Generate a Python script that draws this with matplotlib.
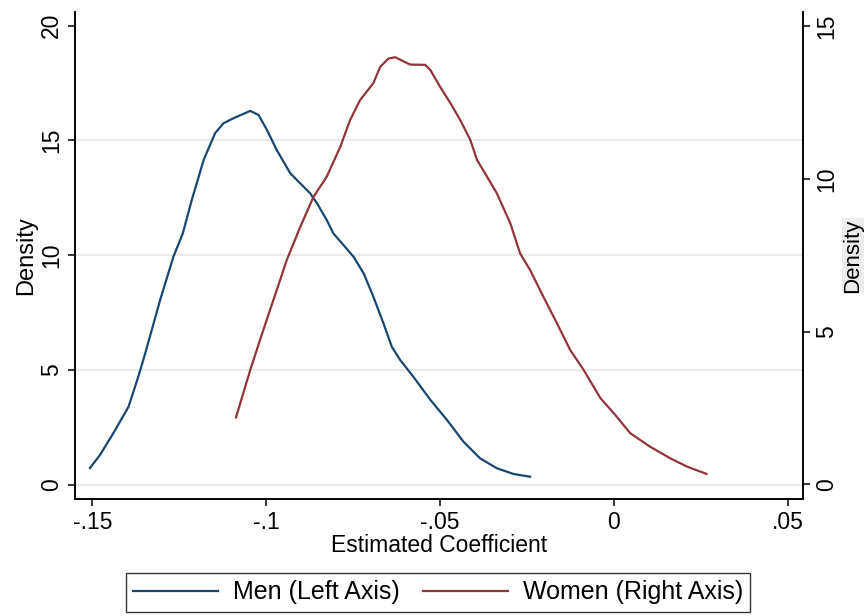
import matplotlib.pyplot as plt
import numpy as np

plt.rcParams['font.family'] = ['Liberation Sans', 'DejaVu Sans']

# kernel density estimates
men_x = [-0.1507, -0.1478, -0.1440, -0.1396, -0.1368, -0.1348, -0.1305, -0.1267, -0.1240,
         -0.1214, -0.1180, -0.1147, -0.1123, -0.1094, -0.1046, -0.1022, -0.0998, -0.0970,
         -0.0931, -0.0912, -0.0874, -0.0854, -0.0826, -0.0807, -0.0778, -0.0749, -0.0720,
         -0.0692, -0.0663, -0.0639, -0.0615, -0.0577, -0.0528, -0.0480, -0.0433, -0.0385,
         -0.0337, -0.0289, -0.0241]
men_y = [0.72, 1.29, 2.23, 3.39, 4.70, 5.72, 8.05, 9.93, 10.95,
         12.41, 14.15, 15.32, 15.75, 15.97, 16.29, 16.11, 15.46, 14.59,
         13.57, 13.28, 12.70, 12.26, 11.53, 10.95, 10.44, 9.93, 9.21,
         8.19, 7.03, 6.01, 5.43, 4.70, 3.69, 2.81, 1.87, 1.14,
         0.71, 0.46, 0.34]

women_x = [-0.1087, -0.1046, -0.1018, -0.0989, -0.0960, -0.0941, -0.0902, -0.0864, -0.0826,
           -0.0787, -0.0759, -0.0730, -0.0692, -0.0672, -0.0648, -0.0629, -0.0610, -0.0586,
           -0.0543, -0.0528, -0.0500, -0.0470, -0.0442, -0.0413, -0.0394, -0.0365, -0.0337,
           -0.0298, -0.0270, -0.0241, -0.0203, -0.0164, -0.0126, -0.0087, -0.0039, 0.0000,
           0.0047, 0.0104, 0.0162, 0.0210, 0.0266]
women_y = [2.19, 3.74, 4.72, 5.71, 6.69, 7.34, 8.43, 9.41, 10.07,
           11.05, 11.92, 12.58, 13.13, 13.67, 13.94, 13.98, 13.87, 13.74,
           13.73, 13.56, 13.01, 12.47, 11.92, 11.27, 10.62, 10.07, 9.53,
           8.54, 7.56, 7.01, 6.14, 5.27, 4.40, 3.74, 2.82, 2.32,
           1.67, 1.23, 0.85, 0.58, 0.34]

x_ticks = [-0.15, -0.1, -0.05, 0, 0.05]
x_labels = ['-.15', '-.1', '-.05', '0', '.05']
left_ticks = [0, 5, 10, 15, 20]
right_ticks = [0, 5, 10, 15]

blue = '#1a476f'
red = '#90353b'

fig = plt.figure(figsize=(8.66, 6.16), dpi=100)
ax = fig.add_axes([0.087, 0.19, 0.84, 0.7905])
ax2 = ax.twinx()

l1, = ax.plot(men_x, men_y, color=blue, lw=1.6, label='Men (Left Axis)')
l2, = ax2.plot(women_x, women_y, color=red, lw=1.6, label='Women (Right Axis)')

ax.set_xlim(-0.1549, 0.0543)
ax.set_ylim(-0.63, 20.6)
ax2.set_ylim(-0.48, 15.46)

ax.set_xticks(x_ticks)
ax.set_xticklabels(x_labels)
ax.set_yticks(left_ticks)
ax2.set_yticks(right_ticks)

for a in (ax, ax2):
    a.spines['top'].set_visible(False)
    for s in a.spines.values():
        s.set_linewidth(1.2)
    a.tick_params(labelsize=16.5, length=5, width=1.1, direction='out', pad=4)
ax.tick_params(axis='y', labelrotation=90)
ax2.tick_params(axis='y', labelrotation=90)
for t in ax.get_yticklabels() + ax2.get_yticklabels():
    t.set_va('center')

ax.set_axisbelow(True)
ax.yaxis.grid(True, color='#e6e6e6', lw=1.2)
ax.get_ygridlines()[-1].set_visible(False)

ax.set_xlabel('Estimated Coefficient', fontsize=16.5, labelpad=0)
ax.set_ylabel('Density', fontsize=17, labelpad=2)
ax2.set_ylabel('Density', fontsize=16, labelpad=3,
               bbox=dict(facecolor='#ececec', edgecolor='none', pad=0.5))

leg = fig.legend(handles=[l1, l2], loc='center', bbox_to_anchor=(0.506, 0.0385),
                 ncol=2, fontsize=18, frameon=True, fancybox=False,
                 edgecolor='black', handlelength=3.4, handletextpad=0.6,
                 columnspacing=0.9, borderpad=0.3, borderaxespad=0)
leg.get_frame().set_linewidth(1.0)

fig.savefig('out.png', dpi=100)
